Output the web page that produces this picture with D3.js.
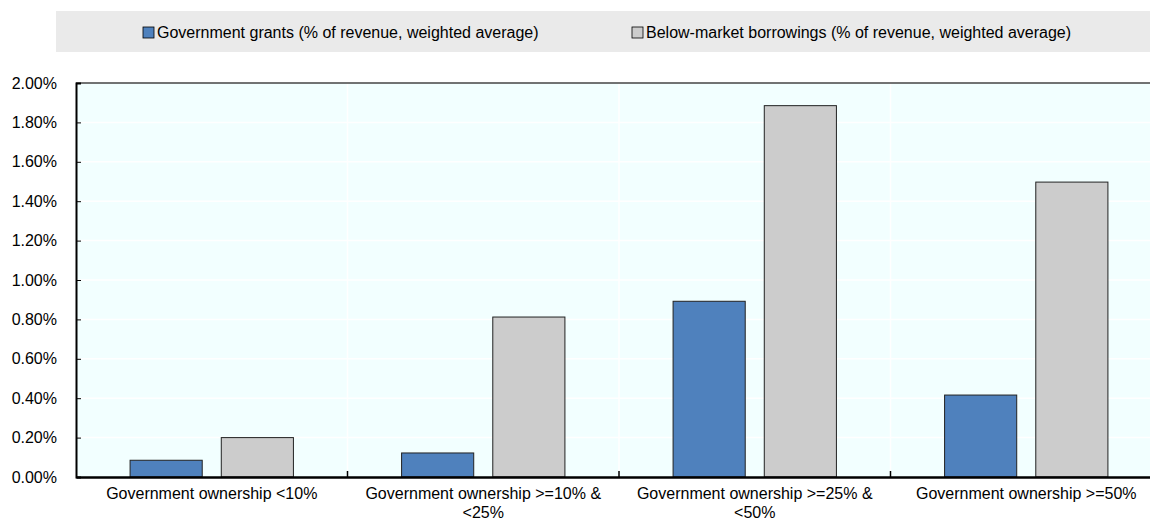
<!doctype html>
<html>
<head>
<meta charset="utf-8">
<style>
  body { margin: 0; background: #fff; }
  svg text { font-family: "Liberation Sans", Arial, sans-serif; fill: #000; }
</style>
<script src="https://d3js.org/d3.v7.min.js"></script>
</head>
<body>
<svg width="1150" height="523"></svg>
<script>
var categories = ["Government ownership <10%", "Government ownership >=10% & <25%",
                  "Government ownership >=25% & <50%", "Government ownership >=50%"];
var seriesNames = ["Government grants (% of revenue, weighted average)",
                   "Below-market borrowings (% of revenue, weighted average)"];
var grants = [0.085, 0.122, 0.892, 0.416];
var borrowings = [0.20, 0.812, 1.885, 1.497];
var yTicks = [0, 0.2, 0.4, 0.6, 0.8, 1.0, 1.2, 1.4, 1.6, 1.8, 2.0];
var colors = ["#4f81bd", "#cccccc"];

var svg = d3.select("svg");
var pLeft = 76, pRight = 1162, pTop = 83, pBottom = 477;

var x = d3.scaleBand().domain(categories).range([pLeft, pRight]);
var xs = d3.scaleBand().domain([0, 1]).range([0, x.bandwidth()]).paddingInner(0.209).paddingOuter(0.593);
var y = d3.scaleLinear().domain([0, 2]).range([pBottom, pTop]);

// legend
svg.append("rect").attr("x", 56).attr("y", 11).attr("width", 1094).attr("height", 41).attr("fill", "#eaeaea");
var legX = [143, 632];
seriesNames.forEach(function(s, i) {
  var g = svg.append("g").attr("transform", "translate(" + legX[i] + ",27)");
  g.append("rect").attr("width", 11).attr("height", 11).attr("fill", colors[i]).attr("stroke", "#000").attr("stroke-width", 0.8);
  g.append("text").attr("x", 14).attr("y", 11).attr("font-size", "16px").text(s);
});

// plot background
svg.append("rect").attr("x", pLeft).attr("y", pTop).attr("width", pRight - pLeft).attr("height", pBottom - pTop).attr("fill", "#f2ffff");

// grid
svg.append("g").selectAll("line").data(yTicks.slice(1, -1)).enter().append("line")
  .attr("x1", pLeft).attr("x2", pRight).attr("y1", function(d) { return y(d); }).attr("y2", function(d) { return y(d); })
  .attr("stroke", "#fff").attr("stroke-width", 1.5);
svg.append("g").selectAll("line").data(categories.slice(1)).enter().append("line")
  .attr("x1", function(d) { return x(d); }).attr("x2", function(d) { return x(d); })
  .attr("y1", pTop).attr("y2", pBottom).attr("stroke", "#fff").attr("stroke-width", 1.5);

// top border
svg.append("line").attr("x1", pLeft).attr("x2", pRight).attr("y1", pTop).attr("y2", pTop).attr("stroke", "#444").attr("stroke-width", 1.5);

// bars
var rows = categories.map(function(c, i) { return { cat: c, vals: [grants[i], borrowings[i]] }; });
var groups = svg.append("g").selectAll("g").data(rows).enter().append("g")
  .attr("transform", function(d) { return "translate(" + x(d.cat) + ",0)"; });
groups.selectAll("rect").data(function(d) { return d.vals; }).enter().append("rect")
  .attr("x", function(d, i) { return xs(i); })
  .attr("width", xs.bandwidth())
  .attr("y", function(d) { return y(d); })
  .attr("height", function(d) { return pBottom - y(d); })
  .attr("fill", function(d, i) { return colors[i]; })
  .attr("stroke", "#222").attr("stroke-width", 1);

// y axis
var yAxis = svg.append("g").attr("transform", "translate(" + pLeft + ",0)")
  .call(d3.axisRight(y).tickValues(yTicks).tickSize(5).tickFormat(function(d) { return d.toFixed(2) + "%"; }));
yAxis.select(".domain").attr("stroke", "#000").attr("stroke-width", 2);
yAxis.selectAll(".tick line").attr("stroke", "#000");
yAxis.selectAll(".tick text").attr("x", -19).attr("text-anchor", "end").attr("font-size", "16px")
  .attr("font-family", "Liberation Sans, Arial, sans-serif").attr("fill", "#000");

// x axis
var xAxis = svg.append("g").attr("transform", "translate(0," + pBottom + ")")
  .call(d3.axisBottom(x).tickSize(0).tickSizeOuter(0));
xAxis.select(".domain").attr("stroke", "#000").attr("stroke-width", 2.5);
xAxis.selectAll(".tick text").attr("font-size", "16px").attr("font-family", "Liberation Sans, Arial, sans-serif")
  .attr("fill", "#000").attr("y", 22).attr("dy", 0).call(wrap, 262);
svg.append("g").selectAll("line").data(categories.slice(1)).enter().append("line")
  .attr("x1", function(d) { return x(d); }).attr("x2", function(d) { return x(d); })
  .attr("y1", pBottom - 6).attr("y2", pBottom).attr("stroke", "#000").attr("stroke-width", 1.5);

function wrap(sel, width) {
  sel.each(function() {
    var t = d3.select(this), words = t.text().split(/\s+/), line = [], lineNo = 0;
    var ty = t.attr("y");
    var tspan = t.text(null).append("tspan").attr("x", 0).attr("y", ty);
    words.forEach(function(w) {
      line.push(w);
      tspan.text(line.join(" "));
      if (tspan.node().getComputedTextLength() > width && line.length > 1) {
        line.pop();
        tspan.text(line.join(" "));
        line = [w];
        lineNo++;
        tspan = t.append("tspan").attr("x", 0).attr("y", +ty + lineNo * 19).text(w);
      }
    });
  });
}
</script>
</body>
</html>
